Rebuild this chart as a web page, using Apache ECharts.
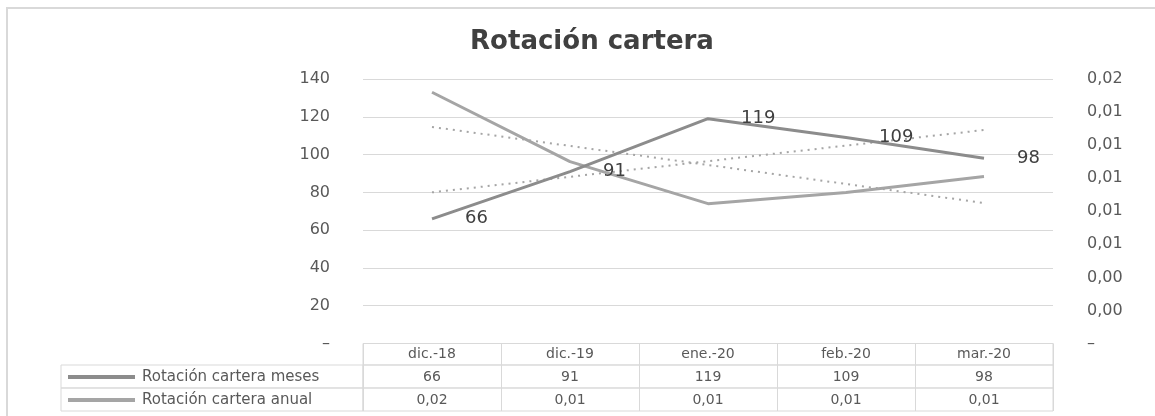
<!DOCTYPE html>
<html>
<head>
<meta charset="utf-8">
<script src="https://cdn.jsdelivr.net/npm/echarts@6/dist/echarts.min.js"></script>
<style>
html,body{margin:0;padding:0;background:#fff;}
#c{width:1155px;height:416px;}
</style>
</head>
<body>
<div id="c"></div>
<script>
// ---- data ----
const title = 'Rotación cartera';
const categories = ['dic.-18', 'dic.-19', 'ene.-20', 'feb.-20', 'mar.-20'];
const seriesNames = ['Rotación cartera meses', 'Rotación cartera anual'];
const meses = [66, 91, 119, 109, 98];
const anual = [0.0152, 0.0110, 0.00846, 0.00914, 0.0101];
const tableMeses = ['66', '91', '119', '109', '98'];
const tableAnual = ['0,02', '0,01', '0,01', '0,01', '0,01'];
// trend lines (start and end values)
const trendMeses = [80, null, null, null, 113];
const trendAnual = [0.0131, null, null, null, 0.0085];

const gridL = 363, gridR = 102;
const gray = '#595959';
const border = '#d9d9d9';
const font = '"DejaVu Sans", "Noto Sans", sans-serif';

function rowGrid(top, h) { return { left: gridL, right: gridR, top: top, height: h, show: true, borderColor: border, borderWidth: 1, backgroundColor: 'transparent' }; }
function rowXAxis(gi, vals) {
  return {
    type: 'category', gridIndex: gi, data: categories, boundaryGap: true,
    axisLine: { show: false }, axisTick: { show: false },
    splitLine: { show: true, lineStyle: { color: border, width: 1 } },
    axisLabel: { inside: true, margin: 4, color: gray, fontSize: 14, fontFamily: font, interval: 0,
      formatter: function (v, i) { return vals[i]; } }
  };
}
function rowYAxis(gi) { return { type: 'value', gridIndex: gi, show: false }; }
function legendRow(top, name, color) {
  return {
    orient: 'horizontal', left: 68, top: top, padding: 0, itemWidth: 67, itemHeight: 4,
    data: [{ name: name, icon: 'rect', itemStyle: { color: color } }],
    textStyle: { color: gray, fontSize: 15, fontFamily: font, lineHeight: 23, padding: [0, 0, 0, 2] },
    selectedMode: false
  };
}

const chart = echarts.init(document.getElementById('c'), null, { renderer: 'canvas' });
chart.setOption({
  animation: false,
  backgroundColor: '#fff',
  title: { text: title, left: 587, textAlign: 'center', top: 24,
    textStyle: { fontSize: 26, fontWeight: 'bold', color: '#404040', fontFamily: font } },
  legend: [
    legendRow(365.5, seriesNames[0], '#8c8c8c'),
    legendRow(388.5, seriesNames[1], '#a5a5a5')
  ],
  grid: [
    { left: gridL, right: gridR, top: 79, bottom: 72.5 },
    rowGrid(343.5, 21.5),
    rowGrid(365, 23),
    rowGrid(388, 23)
  ],
  xAxis: [
    { type: 'category', gridIndex: 0, data: categories, boundaryGap: true,
      axisLine: { show: false }, axisTick: { show: false }, axisLabel: { show: false }, splitLine: { show: false } },
    rowXAxis(1, categories),
    rowXAxis(2, tableMeses),
    rowXAxis(3, tableAnual)
  ],
  yAxis: [
    { type: 'value', gridIndex: 0, min: 0, max: 140, interval: 20,
      axisLine: { show: false }, axisTick: { show: false },
      splitLine: { lineStyle: { color: border, width: 1 } },
      axisLabel: { color: gray, fontSize: 16, fontFamily: font, margin: 33,
        formatter: function (v) { return v === 0 ? '–' : String(v); } } },
    { type: 'value', gridIndex: 0, min: 0, max: 0.016, interval: 0.002, position: 'right',
      axisLine: { show: false }, axisTick: { show: false }, splitLine: { show: false },
      axisLabel: { color: gray, fontSize: 16, fontFamily: font, margin: 34, align: 'left',
        formatter: function (v) { return v === 0 ? '–' : v.toFixed(2).replace('.', ','); } } },
    rowYAxis(1), rowYAxis(2), rowYAxis(3)
  ],
  graphic: [
    { type: 'rect', shape: { x: 7, y: 8, width: 1250, height: 500 }, style: { fill: 'none', stroke: '#d9d9d9', lineWidth: 2 }, silent: true, z: -1 },
    { type: 'rect', shape: { x: 61, y: 365, width: gridL - 61, height: 23 }, style: { fill: 'none', stroke: border, lineWidth: 1 }, silent: true },
    { type: 'rect', shape: { x: 61, y: 388, width: gridL - 61, height: 23 }, style: { fill: 'none', stroke: border, lineWidth: 1 }, silent: true }
  ],
  series: [
    { name: seriesNames[0], type: 'line', xAxisIndex: 0, yAxisIndex: 0, data: meses,
      symbol: 'circle', symbolSize: 0, showSymbol: true,
      lineStyle: { color: '#8c8c8c', width: 3 }, itemStyle: { color: '#8c8c8c' },
      label: { show: true, position: 'right', distance: 33, color: '#404040', fontSize: 18, fontFamily: font }, z: 3 },
    { name: seriesNames[1], type: 'line', xAxisIndex: 0, yAxisIndex: 1, data: anual,
      symbol: 'none', lineStyle: { color: '#a5a5a5', width: 3 }, itemStyle: { color: '#a5a5a5' }, z: 2 },
    { name: 'trend meses', type: 'line', xAxisIndex: 0, yAxisIndex: 0, data: trendMeses, connectNulls: true,
      symbol: 'none', lineStyle: { color: '#a5a5a5', width: 2, type: [2, 5] }, z: 1 },
    { name: 'trend anual', type: 'line', xAxisIndex: 0, yAxisIndex: 1, data: trendAnual, connectNulls: true,
      symbol: 'none', lineStyle: { color: '#a5a5a5', width: 2, type: [2, 5] }, z: 1 }
  ]
});
</script>
</body>
</html>
